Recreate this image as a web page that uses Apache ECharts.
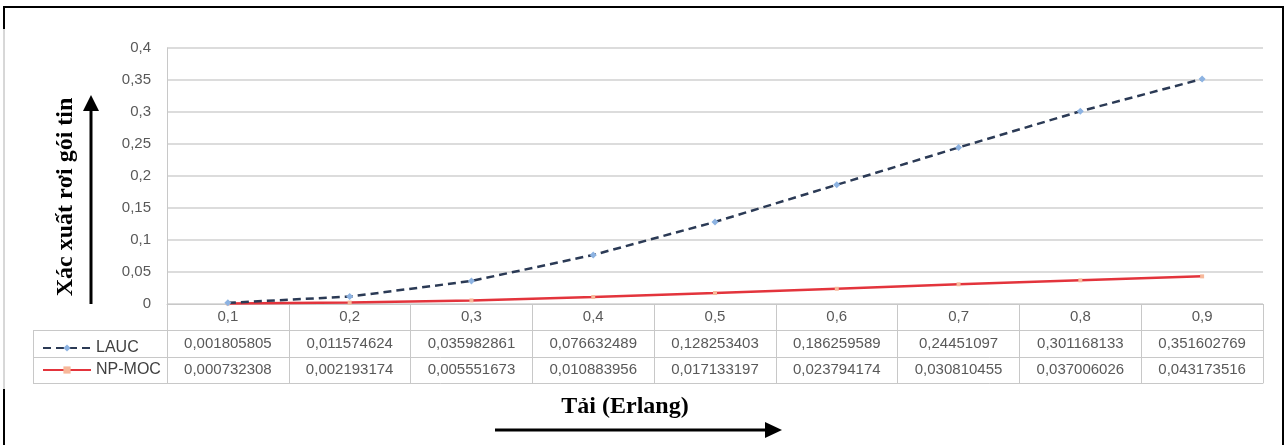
<!DOCTYPE html>
<html>
<head>
<meta charset="utf-8">
<script src="https://cdn.jsdelivr.net/npm/echarts@6/dist/echarts.min.js"></script>
<style>
html,body{margin:0;padding:0;background:#fff;}
#chart{width:1285px;height:445px;}
</style>
</head>
<body>
<div id="chart"></div>
<script>
const categories = ['0,1','0,2','0,3','0,4','0,5','0,6','0,7','0,8','0,9'];
const lauc = [0.001805805,0.011574624,0.035982861,0.076632489,0.128253403,0.186259589,0.24451097,0.301168133,0.351602769];
const npmoc = [0.000732308,0.002193174,0.005551673,0.010883956,0.017133197,0.023794174,0.030810455,0.037006026,0.043173516];
const seriesNames = ['LAUC','NP-MOC'];
const yTitle = 'Xác xuất rơi gói tin';
const xTitle = 'Tải (Erlang)';

const fmt = v => String(v).replace('.', ',');
const labelFont = 'Liberation Sans';
const gridColor = '#c8c8c8';
const textGray = '#595959';

const chart = echarts.init(document.getElementById('chart'));

function tableAxis(offset, values, margin, showTicks, tickLen){
  return {
    type:'category', gridIndex:0, position:'bottom', offset:offset, data:categories,
    boundaryGap:true,
    axisLine:{show:true, lineStyle:{color:gridColor, width:1}},
    axisTick:{show:showTicks, interval:0, length:tickLen, lineStyle:{color:gridColor, width:1}},
    axisLabel:{show:!!values, interval:0, margin:margin, color:textGray, fontFamily:labelFont, fontSize:15,
      formatter:(v,i)=> values ? fmt(values[i]) : ''},
    splitLine:{show:false}
  };
}

const option = {
  animation:false,
  backgroundColor:'#fff',
  grid:{left:167, right:22, top:48, bottom:141, containLabel:false},
  legend:{
    orient:'vertical', left:37, top:335, itemGap:6, itemWidth:48, itemHeight:9,
    textStyle:{color:'#404040', fontFamily:labelFont, fontSize:16},
    data:seriesNames
  },
  xAxis:[
    {
      type:'category', data:categories, boundaryGap:true, position:'bottom',
      axisLine:{show:true, lineStyle:{color:gridColor, width:1}},
      axisTick:{show:true, interval:0, length:26, lineStyle:{color:gridColor, width:1}},
      axisLabel:{interval:0, margin:5, color:textGray, fontFamily:labelFont, fontSize:15},
      splitLine:{show:false}
    },
    tableAxis(26, lauc, 6, true, 27),
    tableAxis(53, npmoc, 5, true, 26),
    tableAxis(79, null, 6, false, 0)
  ],
  yAxis:{
    type:'value', min:0, max:0.4, interval:0.05,
    axisLine:{show:true, lineStyle:{color:gridColor, width:1}},
    axisTick:{show:false},
    axisLabel:{margin:16, color:textGray, fontFamily:labelFont, fontSize:15,
      formatter:v=> fmt(+v.toFixed(2))},
    splitLine:{show:true, lineStyle:{color:'#d0d0d0', width:1.5}}
  },
  series:[
    {
      name:seriesNames[0], type:'line', data:lauc, xAxisIndex:0,
      symbol:'diamond', symbolSize:7, showSymbol:true,
      itemStyle:{color:'#8db3e2'},
      lineStyle:{color:'#2b3a55', width:2.5, type:[8,5]},
      z:3
    },
    {
      name:seriesNames[1], type:'line', data:npmoc, xAxisIndex:0,
      symbol:'rect', symbolSize:4, showSymbol:true,
      itemStyle:{color:'#f7b89a'},
      lineStyle:{color:'#e3343c', width:2.5},
      z:2
    }
  ],
  graphic:[
    // outer frame
    {type:'line', shape:{x1:4,y1:7,x2:1283,y2:7}, style:{stroke:'#000', lineWidth:2}},
    {type:'line', shape:{x1:4,y1:6,x2:4,y2:29}, style:{stroke:'#000', lineWidth:2}},
    {type:'line', shape:{x1:4,y1:29,x2:4,y2:389}, style:{stroke:'#b0b0b0', lineWidth:1}},
    {type:'line', shape:{x1:4,y1:389,x2:4,y2:445}, style:{stroke:'#000', lineWidth:2}},
    {type:'line', shape:{x1:1283,y1:6,x2:1283,y2:445}, style:{stroke:'#000', lineWidth:2}},
    // legend cell of data table
    {type:'line', shape:{x1:33,y1:330.5,x2:167,y2:330.5}, style:{stroke:gridColor, lineWidth:1}},
    {type:'line', shape:{x1:33,y1:357.5,x2:167,y2:357.5}, style:{stroke:gridColor, lineWidth:1}},
    {type:'line', shape:{x1:33,y1:383.5,x2:167,y2:383.5}, style:{stroke:gridColor, lineWidth:1}},
    {type:'line', shape:{x1:33.5,y1:330,x2:33.5,y2:384}, style:{stroke:gridColor, lineWidth:1}},
    // y title + arrow
    {type:'text', x:66, y:197, rotation:Math.PI/2,
      style:{text:yTitle, font:'bold 24px "Liberation Serif"', fill:'#000', align:'center', verticalAlign:'middle'}},
    {type:'line', shape:{x1:91,y1:304,x2:91,y2:106}, style:{stroke:'#000', lineWidth:3}},
    {type:'polygon', shape:{points:[[91,95],[83,111],[99,111]]}, style:{fill:'#000'}},
    // x title + arrow
    {type:'text', x:625, y:407,
      style:{text:xTitle, font:'bold 24px "Liberation Serif"', fill:'#000', align:'center', verticalAlign:'middle'}},
    {type:'line', shape:{x1:495,y1:430,x2:768,y2:430}, style:{stroke:'#000', lineWidth:3}},
    {type:'polygon', shape:{points:[[782,430],[765,422],[765,438]]}, style:{fill:'#000'}}
  ]
};
chart.setOption(option);
</script>
</body>
</html>
